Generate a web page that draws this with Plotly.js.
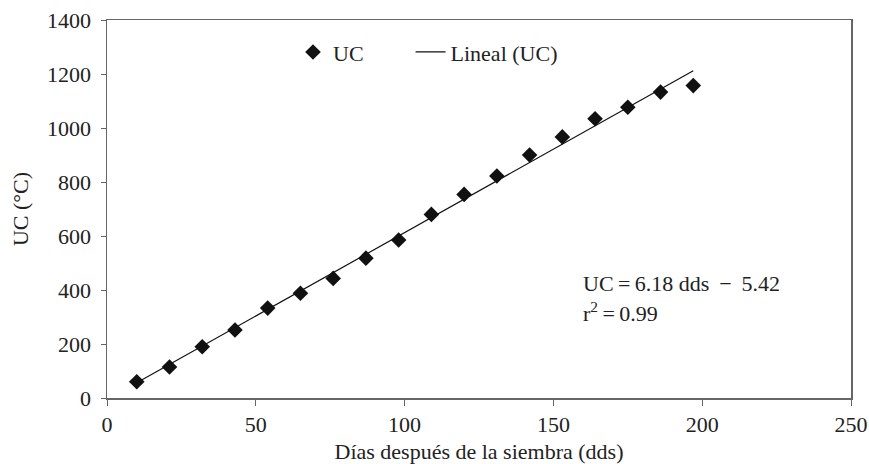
<!DOCTYPE html>
<html>
<head>
<meta charset="utf-8">
<script src="https://cdn.plot.ly/plotly-3.0.1.min.js"></script>
<style>html,body{margin:0;padding:0;background:#fff;}#chart{width:869px;height:464px;}</style>
</head>
<body>
<div id="chart"></div>
<script>
// Data
const dds = [10, 21, 32, 43, 54, 65, 76, 87, 98, 109, 120, 131, 142, 153, 164, 175, 186, 197];
const uc  = [60, 115, 190, 252, 333, 388, 443, 518, 585, 680, 754, 822, 900, 967, 1034, 1077, 1133, 1157];
const fitSlope = 6.18;
const fitIntercept = -5.42;
const xTicks = [0, 50, 100, 150, 200, 250];
const yTicks = [0, 200, 400, 600, 800, 1000, 1200, 1400];
const eqLines = ["UC\u2009=\u20096.18 dds \u2009\u2212\u2009 5.42", "r<sup>2</sup>\u2009=\u20090.99"];

const xFit = [dds[0], dds[dds.length - 1]];
const yFit = xFit.map(v => fitSlope * v + fitIntercept);

const FONT = "Liberation Serif";
const TXT = "#222";
const FS = 22;

const traces = [
  {
    x: dds, y: uc, type: "scatter", mode: "markers", name: "UC",
    marker: {symbol: "diamond", size: 12, color: "#111"},
    legend: "legend"
  },
  {
    x: xFit, y: yFit, type: "scatter", mode: "lines", name: "Lineal (UC)",
    line: {color: "#111", width: 1.2},
    legend: "legend2"
  }
];

const layout = {
  width: 869, height: 464,
  margin: {l: 107, r: 18, t: 20, b: 66},
  paper_bgcolor: "#fff", plot_bgcolor: "#fff",
  font: {family: FONT, size: FS, color: TXT},
  showlegend: true,
  legend: {x: 0.25, y: 0.915, xanchor: "left", yanchor: "middle",
           bgcolor: "rgba(0,0,0,0)", font: {family: FONT, size: FS, color: TXT}},
  legend2: {x: 0.408, y: 0.915, xanchor: "left", yanchor: "middle",
            bgcolor: "rgba(0,0,0,0)", font: {family: FONT, size: FS, color: TXT}},
  xaxis: {
    range: [0, 250], tickvals: xTicks, ticktext: xTicks.map(String),
    showgrid: false, zeroline: false,
    showline: true, linecolor: "#666", linewidth: 1.5, mirror: true,
    ticks: "outside", ticklen: 6, tickcolor: "#666",
    tickfont: {family: FONT, size: FS, color: TXT},
    title: {text: "Días después de la siembra (dds)", font: {family: FONT, size: FS, color: TXT}, standoff: 7}
  },
  yaxis: {
    range: [0, 1400], tickvals: yTicks, ticktext: yTicks.map(String),
    showgrid: false, zeroline: false,
    showline: true, linecolor: "#666", linewidth: 1.5, mirror: true,
    ticks: "outside", ticklen: 5, tickcolor: "#666", ticklabelstandoff: 5,
    tickfont: {family: FONT, size: FS, color: TXT},
    title: {text: "UC (°C)", font: {family: FONT, size: FS, color: TXT}, standoff: 12}
  },
  annotations: [
    {xref: "paper", yref: "paper", x: 0.637, y: 0.303, xanchor: "left", yanchor: "middle",
     text: eqLines[0], showarrow: false, font: {family: FONT, size: FS, color: TXT}},
    {xref: "paper", yref: "paper", x: 0.637, y: 0.227, xanchor: "left", yanchor: "middle",
     text: eqLines[1], showarrow: false, font: {family: FONT, size: FS, color: TXT}}
  ]
};

Plotly.newPlot("chart", traces, layout, {displayModeBar: false, staticPlot: true});
</script>
</body>
</html>
